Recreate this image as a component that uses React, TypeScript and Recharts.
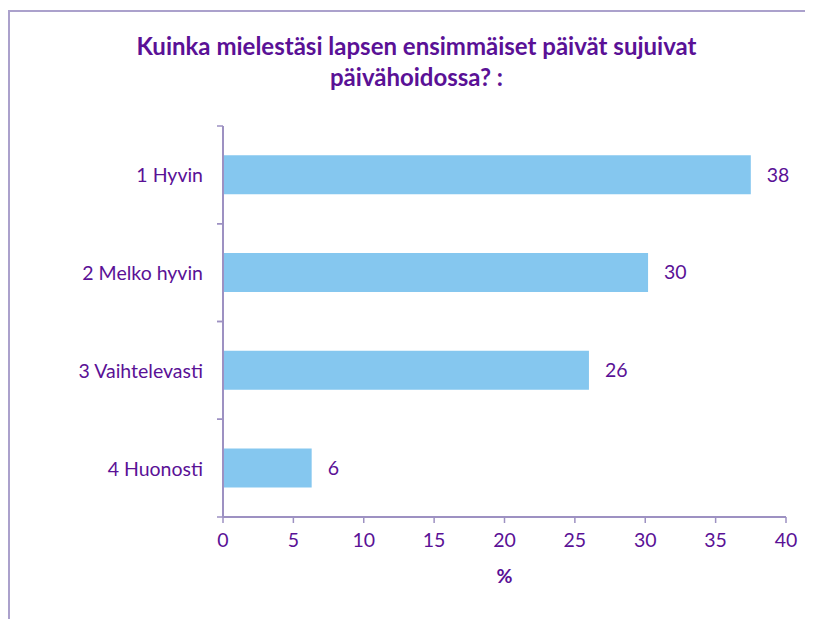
import React from "react";
import { BarChart, Bar, XAxis, YAxis, LabelList } from "recharts";

const categories = ["1 Hyvin", "2 Melko hyvin", "3 Vaihtelevasti", "4 Huonosti"];
const values = [37.5, 30.2, 26.0, 6.3];
const xTicks = [0, 5, 10, 15, 20, 25, 30, 35, 40];
const title = ["Kuinka mielestäsi lapsen ensimmäiset päivät sujuivat", "päivähoidossa? :"];
const axisTitle = "%";

const data = categories.map((name, i) => ({ name, value: values[i] }));

const PURPLE = "#5a1196";
const AXIS = "#9d91c2";
const BAR = "#85c7ef";
const FONT = "Lato, 'Open Sans', sans-serif";
const FS = 19.5;
const TICK_MARGIN = 20;
const TICK_LEN = 6;

const CategoryTick = (props: any) => {
  const { x, y, payload } = props;
  const off = payload && payload.offset ? payload.offset : 0;
  const ax = x + TICK_MARGIN;
  return (
    <g>
      <line x1={ax - TICK_LEN} x2={ax} y1={y - off} y2={y - off} stroke={AXIS} strokeWidth={1.5} />
      <line x1={ax - TICK_LEN} x2={ax} y1={y + off} y2={y + off} stroke={AXIS} strokeWidth={1.5} />
      <text x={x} y={y} textAnchor="end" dominantBaseline="central" fill={PURPLE} fontSize={FS} fontFamily={FONT}>
        {payload.value}
      </text>
    </g>
  );
};

export default function App() {
  return (
    <div style={{ position: "relative", width: 805, height: 611, overflow: "hidden", background: "#fff" }}>
      <div
        style={{
          position: "absolute",
          left: 0,
          top: 2,
          width: 800,
          height: 700,
          border: `2px solid #aba1cc`,
        }}
      />
      <div
        style={{
          position: "absolute",
          left: 6,
          top: 22,
          width: 805,
          textAlign: "center",
          color: PURPLE,
          fontFamily: FONT,
          fontWeight: 700,
          fontSize: 24,
          lineHeight: "31px",
          zIndex: 2,
        }}
      >
        {title.map((t) => (
          <div key={t}>{t}</div>
        ))}
      </div>
      <BarChart
        width={805}
        height={611}
        data={data}
        layout="vertical"
        margin={{ top: 118, right: 27, bottom: 42, left: 0 }}
        barCategoryGap="30%"
        style={{ position: "absolute", left: 0, top: 0 }}
      >
        <XAxis
          type="number"
          domain={[0, 40]}
          ticks={xTicks}
          interval={0}
          height={60}
          axisLine={{ stroke: AXIS, strokeWidth: 2 }}
          tickLine={{ stroke: AXIS, strokeWidth: 1.5 }}
          tickSize={6}
          tickMargin={10}
          tick={{ fill: PURPLE, fontSize: FS, fontFamily: FONT }}
          label={{
            value: axisTitle,
            position: "bottom",
            offset: -8,
            fill: PURPLE,
            fontSize: FS,
            fontWeight: 700,
            fontFamily: FONT,
          }}
        />
        <YAxis
          type="category"
          dataKey="name"
          width={215}
          axisLine={{ stroke: AXIS, strokeWidth: 2 }}
          tickLine={false}
          tickSize={0}
          tickMargin={TICK_MARGIN}
          interval={0}
          tick={<CategoryTick />}
        />
        <Bar dataKey="value" fill={BAR} isAnimationActive={false}>
          <LabelList
            dataKey="value"
            position="right"
            offset={16}
            formatter={(v: any) => Math.round(Number(v))}
            fill={PURPLE}
            fontSize={FS}
            fontFamily={FONT}
          />
        </Bar>
      </BarChart>
    </div>
  );
}
